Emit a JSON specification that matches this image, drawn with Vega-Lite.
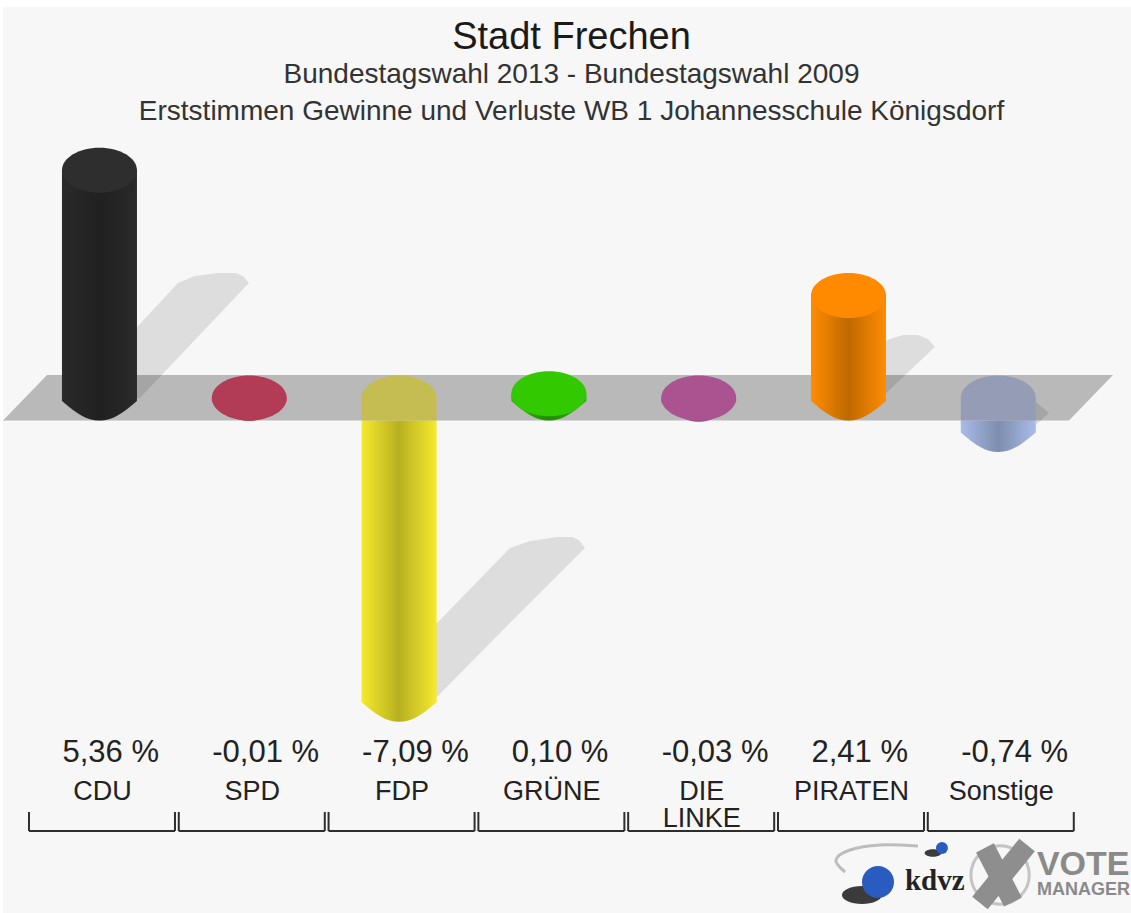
{
"$schema":"https://vega.github.io/schema/vega-lite/v6.json",
"width":1131,"height":913,"autosize":"none","padding":0,"background":"#ffffff",
"config":{"view":{"stroke":null},"font":"Liberation Sans"},
"title":{"text":"Stadt Frechen","subtitle":["Bundestagswahl 2013 - Bundestagswahl 2009","Erststimmen Gewinne und Verluste WB 1 Johannesschule Königsdorf"],"anchor":"middle","frame":"group","offset":-126,"dx":6,"font":"Liberation Sans","fontSize":38,"fontWeight":"normal","color":"#1a1a1a","subtitleFont":"Liberation Sans","subtitleFontSize":28,"subtitleColor":"#333333","subtitleLineHeight":37,"subtitlePadding":4},
"datasets":{
"haupt":[
{"partei":"CDU","idx":0,"v":5.36,"wert":"5,36 %","name":"CDU"},
{"partei":"SPD","idx":1,"v":-0.01,"wert":"-0,01 %","name":"SPD"},
{"partei":"FDP","idx":2,"v":-7.09,"wert":"-7,09 %","name":"FDP"},
{"partei":"GRÜNE","idx":3,"v":0.10,"wert":"0,10 %","name":"GRÜNE"},
{"partei":"DIE LINKE","idx":4,"v":-0.03,"wert":"-0,03 %","name":"DIE\nLINKE"},
{"partei":"PIRATEN","idx":5,"v":2.41,"wert":"2,41 %","name":"PIRATEN"},
{"partei":"Sonstige","idx":6,"v":-0.74,"wert":"-0,74 %","name":"Sonstige"}],
"koerper":[
{"partei":"CDU","idx":0,"v":5.36,"v2":0},
{"partei":"FDP","idx":2,"v":-7.09,"v2":-0.532},
{"partei":"GRÜNE","idx":3,"v":0.10,"v2":0},
{"partei":"PIRATEN","idx":5,"v":2.41,"v2":0},
{"partei":"Sonstige","idx":6,"v":-0.74,"v2":-0.532}],
"boden":[
{"partei":"CDU","idx":0,"v":0},
{"partei":"SPD","idx":1,"v":-0.01},
{"partei":"FDP","idx":2,"v":-7.09},
{"partei":"GRÜNE","idx":3,"v":0},
{"partei":"DIE LINKE","idx":4,"v":-0.03},
{"partei":"PIRATEN","idx":5,"v":0},
{"partei":"Sonstige","idx":6,"v":-0.74}],
"deckel":[
{"partei":"CDU","idx":0,"v":5.36},
{"partei":"SPD","idx":1,"v":0},
{"partei":"FDP","idx":2,"v":0},
{"partei":"GRÜNE","idx":3,"v":0.10},
{"partei":"DIE LINKE","idx":4,"v":0},
{"partei":"PIRATEN","idx":5,"v":2.41},
{"partei":"Sonstige","idx":6,"v":0}],
"gedaempft":[
{"partei":"FDP","idx":2,"v":0,"v2":-0.532},
{"partei":"Sonstige","idx":6,"v":0,"v2":-0.532}],
"ebene":[
{"idx":-0.350,"idx2":6.766,"v":0.541},
{"idx":-0.644,"idx2":6.472,"v":-0.532}],
"flaeche":[
{"idx":-0.644,"idx2":6.886,"v":9.2},
{"idx":-0.644,"idx2":6.886,"v":-12.118}],
"schatten":[
{"partei":"CDU","v":2.941,"idx":0.791,"idx2":0.911},
{"partei":"CDU","v":2.871,"idx":0.637,"idx2":0.958},
{"partei":"CDU","v":2.706,"idx":0.524,"idx2":0.998},
{"partei":"CDU","v":0,"idx":-0.190,"idx2":0.270},
{"partei":"PIRATEN","v":1.482,"idx":5.364,"idx2":5.464},
{"partei":"PIRATEN","v":1.388,"idx":5.277,"idx2":5.531},
{"partei":"PIRATEN","v":1.2,"idx":5.177,"idx2":5.577},
{"partei":"PIRATEN","v":0,"idx":4.843,"idx2":5.217},
{"partei":"Sonstige","v":-0.094,"idx":6.178,"idx2":6.252},
{"partei":"Sonstige","v":-0.353,"idx":6.111,"idx2":6.338},
{"partei":"Sonstige","v":-0.635,"idx":6.011,"idx2":6.252},
{"partei":"FDP","v":-3.271,"idx":3.054,"idx2":3.161},
{"partei":"FDP","v":-3.365,"idx":2.874,"idx2":3.207},
{"partei":"FDP","v":-3.529,"idx":2.74,"idx2":3.241},
{"partei":"FDP","v":-5.294,"idx":2.253,"idx2":2.74},
{"partei":"FDP","v":-7.035,"idx":1.772,"idx2":2.253}],
"klammern":[
{"idx":-0.4706,"idx2":0.504,"v":-10.188,"v2":-9.741},
{"idx":0.5294,"idx2":1.504,"v":-10.188,"v2":-9.741},
{"idx":1.5294,"idx2":2.504,"v":-10.188,"v2":-9.741},
{"idx":2.5294,"idx2":3.504,"v":-10.188,"v2":-9.741},
{"idx":3.5294,"idx2":4.504,"v":-10.188,"v2":-9.741},
{"idx":4.5294,"idx2":5.504,"v":-10.188,"v2":-9.741},
{"idx":5.5294,"idx2":6.504,"v":-10.188,"v2":-9.741}],
"bogen":[
{"n":1,"idx":5.464,"v":-10.541},
{"n":2,"idx":5.210,"v":-10.518},
{"n":3,"idx":5.010,"v":-10.635},
{"n":4,"idx":4.916,"v":-10.871},
{"n":5,"idx":4.977,"v":-11.153}],
"kreuz":[
{"idx":5.878,"idx2":6.192,"v":-11.882,"v2":-10.518},
{"idx":5.911,"idx2":6.098,"v":-10.588,"v2":-11.859}]
},
"encoding":{
"x":{"field":"idx","type":"quantitative","scale":{"domain":[-0.664,6.886],"nice":false,"zero":false,"padding":0},"axis":null},
"y":{"field":"v","type":"quantitative","scale":{"domain":[-12.118,9.365],"nice":false,"zero":false,"padding":0},"axis":null}
},
"resolve":{"scale":{"color":"independent"}},
"layer":[
{"data":{"name":"flaeche"},"mark":{"type":"area","orient":"horizontal","fill":"#f7f7f7"},
 "encoding":{"x2":{"field":"idx2"}}},
{"data":{"name":"schatten"},"mark":{"type":"area","orient":"horizontal","fill":"#000000","fillOpacity":0.1},
 "encoding":{"x2":{"field":"idx2"},"detail":{"field":"partei"}}},
{"data":{"name":"ebene"},"mark":{"type":"area","orient":"horizontal","fill":"#000000","fillOpacity":0.25},
 "encoding":{"x2":{"field":"idx2"}}},
{"data":{"name":"boden"},"mark":{"type":"point","filled":true,"opacity":1,"size":5625,"shape":"M-1,-0.02 L-1,0.08 C-0.6,0.42 -0.35,0.6 0,0.6 C0.35,0.6 0.6,0.42 1,0.08 L1,-0.02 Z"},
 "encoding":{"color":{"field":"partei","legend":null,"scale":{"domain":["CDU","SPD","FDP","GRÜNE","DIE LINKE","PIRATEN","Sonstige"],"range":["#2a2a2a","#e0607a","#f5ea2c","#2bb800","#c060a8","#ff8c00","#a8bce8"]}}}},
{"data":{"name":"boden"},"mark":{"type":"point","filled":true,"opacity":1,"size":5625,"shape":"M-1,-0.02 L-1,0.08 C-0.6,0.42 -0.35,0.6 0,0.6 C0.35,0.6 0.6,0.42 1,0.08 L1,-0.02 Z","fill":{"gradient":"linear","x1":0,"y1":0,"x2":1,"y2":0,"stops":[{"offset":0,"color":"rgba(0,0,0,0)"},{"offset":0.5,"color":"rgba(0,0,0,0.25)"},{"offset":1,"color":"rgba(0,0,0,0)"}]}}},
{"data":{"name":"koerper"},"mark":{"type":"bar","size":75,"orient":"vertical"},
 "encoding":{"y2":{"field":"v2"},"color":{"field":"partei","legend":null,"scale":{"domain":["CDU","FDP","GRÜNE","PIRATEN","Sonstige"],"range":["#2a2a2a","#f5ea2c","#2bb800","#ff8c00","#a8bce8"]}}}},
{"data":{"name":"koerper"},"mark":{"type":"bar","size":75,"orient":"vertical","fill":{"gradient":"linear","x1":0,"y1":0,"x2":1,"y2":0,"stops":[{"offset":0,"color":"rgba(0,0,0,0)"},{"offset":0.5,"color":"rgba(0,0,0,0.25)"},{"offset":1,"color":"rgba(0,0,0,0)"}]}},
 "encoding":{"y2":{"field":"v2"}}},
{"data":{"name":"gedaempft"},"mark":{"type":"bar","size":75,"orient":"vertical"},
 "encoding":{"y2":{"field":"v2"},"color":{"field":"partei","legend":null,"scale":{"domain":["FDP","Sonstige"],"range":["#c5bc52","#959cb5"]}}}},
{"data":{"name":"deckel"},"mark":{"type":"point","filled":true,"opacity":1,"size":5625,"shape":"M-1,0 A1,0.6 0 1,1 1,0 A1,0.6 0 1,1 -1,0 Z"},
 "encoding":{"color":{"field":"partei","legend":null,"scale":{"domain":["CDU","SPD","FDP","GRÜNE","DIE LINKE","PIRATEN","Sonstige"],"range":["#2e2e2e","#b23c55","#c5bc52","#33c900","#ab5290","#ff8a00","#959cb5"]}}}},
{"data":{"name":"haupt"},"transform":[{"calculate":"-8.565","as":"v"}],"mark":{"type":"text","align":"left","dx":-37,"fontSize":31,"color":"#222222","baseline":"alphabetic"},"encoding":{"text":{"field":"wert"}}},
{"data":{"name":"haupt"},"transform":[{"calculate":"-9.459","as":"v"}],"mark":{"type":"text","align":"center","dx":3,"fontSize":27,"color":"#222222","baseline":"alphabetic","lineBreak":"\n","lineHeight":27},"encoding":{"text":{"field":"name"}}},
{"data":{"name":"klammern"},"mark":{"type":"rule","stroke":"#2d2d2d","strokeWidth":2},"encoding":{"x2":{"field":"idx2"}}},
{"data":{"name":"klammern"},"mark":{"type":"rule","stroke":"#2d2d2d","strokeWidth":2},"encoding":{"y2":{"field":"v2"}}},
{"data":{"name":"klammern"},"mark":{"type":"rule","stroke":"#2d2d2d","strokeWidth":2},"encoding":{"x":{"field":"idx2","type":"quantitative"},"y2":{"field":"v2"}}},
{"data":{"name":"bogen"},"mark":{"type":"line","interpolate":"cardinal","stroke":"#bdbdbd","strokeWidth":3},"encoding":{"order":{"field":"n"}}},
{"data":{"values":[{"idx":5.09,"v":-11.694}]},"mark":{"type":"point","filled":true,"opacity":0.85,"color":"#1a1a1a","size":1600,"shape":"M-1,0 A1,0.45 0 1,1 1,0 A1,0.45 0 1,1 -1,0 Z"},"encoding":{}},
{"data":{"values":[{"idx":5.564,"v":-10.706}]},"mark":{"type":"point","filled":true,"opacity":0.85,"color":"#1a1a1a","size":280,"shape":"M-1,0 A1,0.45 0 1,1 1,0 A1,0.45 0 1,1 -1,0 Z"},"encoding":{}},
{"data":{"values":[{"idx":5.197,"v":-11.388}]},"mark":{"type":"point","filled":true,"opacity":1,"color":"#2a5cc0","size":1024},"encoding":{}},
{"data":{"values":[{"idx":5.624,"v":-10.588}]},"mark":{"type":"point","filled":true,"opacity":1,"color":"#2a5cc0","size":144},"encoding":{}},
{"data":{"values":[{"idx":6.012,"v":-11.224}]},"mark":{"type":"point","filled":false,"opacity":1,"stroke":"#c4c4c4","strokeWidth":3,"size":3400,"shape":"circle"},"encoding":{}},
{"data":{"name":"kreuz"},"mark":{"type":"rule","stroke":"#8e8e8e","strokeWidth":20},"encoding":{"x2":{"field":"idx2"},"y2":{"field":"v2"}}},
{"data":{"values":[{"idx":5.377,"v":-11.576,"t":"kdvz"}]},"mark":{"type":"text","font":"Liberation Serif","fontSize":29,"fontWeight":"bold","color":"#222222","align":"left","baseline":"alphabetic"},"encoding":{"text":{"field":"t"}}},
{"data":{"values":[{"idx":6.258,"v":-11.224,"t":"VOTE"}]},"mark":{"type":"text","fontSize":34,"fontWeight":"bold","color":"#8a8a8a","align":"left","baseline":"alphabetic"},"encoding":{"text":{"field":"t"}}},
{"data":{"values":[{"idx":6.258,"v":-11.694,"t":"MANAGER"}]},"mark":{"type":"text","fontSize":18,"fontWeight":"bold","color":"#8a8a8a","align":"left","baseline":"alphabetic"},"encoding":{"text":{"field":"t"}}}
]
}
